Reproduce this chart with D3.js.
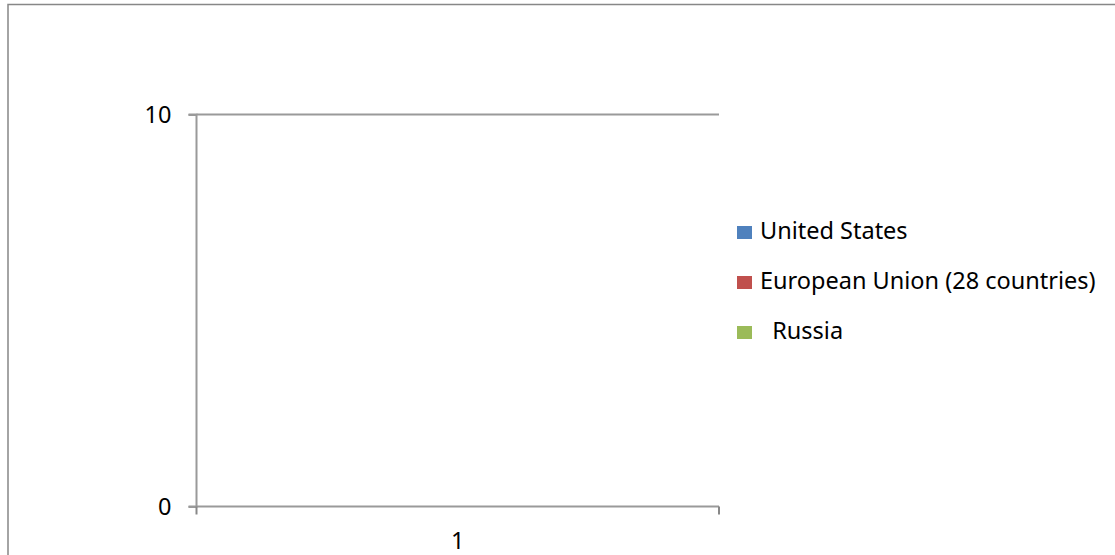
<!DOCTYPE html>
<html>
<head>
<meta charset="utf-8">
<script src="https://cdn.jsdelivr.net/npm/d3@7"></script>
<style>
  html, body { margin: 0; padding: 0; background: #fff; overflow: hidden; }
  svg { display: block; }
  text { font-family: "Noto Sans", "Open Sans", sans-serif; fill: #000; }
</style>
</head>
<body>
<svg id="chart" width="1115" height="555"></svg>
<script>
// ---- data ----
const categories = ["1"];
const seriesNames = ["United States", "European Union (28 countries)", "  Russia"];
const seriesColors = ["#4f81bd", "#c0504d", "#9bbb59"];
const usValues = [0];
const euValues = [0];
const russiaValues = [0];
const yTicks = [0, 10];

const seriesValues = [usValues, euValues, russiaValues];

const svg = d3.select("#chart");
const FONT = "23.5px";

// outer chart border
svg.append("rect")
  .attr("x", 8).attr("y", 4.5)
  .attr("width", 1115).attr("height", 600)
  .attr("fill", "none")
  .attr("stroke", "#878787")
  .attr("stroke-width", 1.5);

const plot = { left: 196.5, right: 719, top: 114.5, bottom: 506.5 };

const x = d3.scaleBand().domain(categories).range([plot.left, plot.right]).paddingInner(0).paddingOuter(0);
const y = d3.scaleLinear().domain([0, 10]).range([plot.bottom, plot.top]);

const axisColor = "#9a9a9a";

// gridlines
svg.append("g")
  .selectAll("line")
  .data(yTicks.filter(d => d !== 0))
  .join("line")
  .attr("x1", plot.left).attr("x2", plot.right)
  .attr("y1", d => y(d)).attr("y2", d => y(d))
  .attr("stroke", axisColor).attr("stroke-width", 2);

// bars (grouped)
const xSub = d3.scaleBand().domain(d3.range(seriesNames.length)).range([0, x.bandwidth()]).paddingInner(0).paddingOuter(0.75);
categories.forEach((c, ci) => {
  svg.append("g").selectAll("rect")
    .data(seriesValues.map((vals, si) => ({ si, v: vals[ci] })))
    .join("rect")
    .attr("x", d => x(c) + xSub(d.si))
    .attr("width", xSub.bandwidth())
    .attr("y", d => y(d.v))
    .attr("height", d => y(0) - y(d.v))
    .attr("fill", d => seriesColors[d.si]);
});

// y axis
const yAxis = d3.axisLeft(y).tickValues(yTicks).tickSize(8).tickPadding(17).tickFormat(d3.format("d"));
const gy = svg.append("g").attr("transform", `translate(${plot.left},0)`).call(yAxis);
gy.select(".domain").attr("stroke", axisColor).attr("stroke-width", 2).attr("d", `M-8,${plot.top}H0V${plot.bottom}H-8`);
gy.selectAll(".tick line").attr("stroke", axisColor).attr("stroke-width", 2);
gy.selectAll(".tick text").style("font-size", FONT).style("font-family", "'Noto Sans', sans-serif").attr("fill", "#000").attr("dy", "0.35em");

// x axis
const xAxis = d3.axisBottom(x).tickSize(0).tickPadding(42);
const gx = svg.append("g").attr("transform", `translate(0,${plot.bottom})`).call(xAxis);
gx.select(".domain").attr("stroke", axisColor).attr("stroke-width", 2).attr("d", `M${plot.left},0H${plot.right}`);
gx.selectAll(".tick text").style("font-size", FONT).style("font-family", "'Noto Sans', sans-serif").attr("fill", "#000").attr("dy", "0");
// band boundary ticks
const bounds = [plot.left].concat(categories.map(c => x(c) + x.bandwidth()));
gx.append("g").selectAll("line").data(bounds).join("line")
  .attr("x1", d => d).attr("x2", d => d).attr("y1", 0).attr("y2", 8)
  .attr("stroke", "#888").attr("stroke-width", 2);

// legend
const legend = svg.append("g").attr("transform", "translate(737,0)");
const legendY = [239, 289, 339];
seriesNames.forEach((n, i) => {
  legend.append("rect").attr("x", 0).attr("y", legendY[i] - 13).attr("width", 15).attr("height", 13).attr("fill", seriesColors[i]);
  legend.append("text").attr("x", 23).attr("y", legendY[i]).attr("xml:space", "preserve").style("white-space", "pre")
    .style("font-size", FONT).text(n);
});
</script>
</body>
</html>
